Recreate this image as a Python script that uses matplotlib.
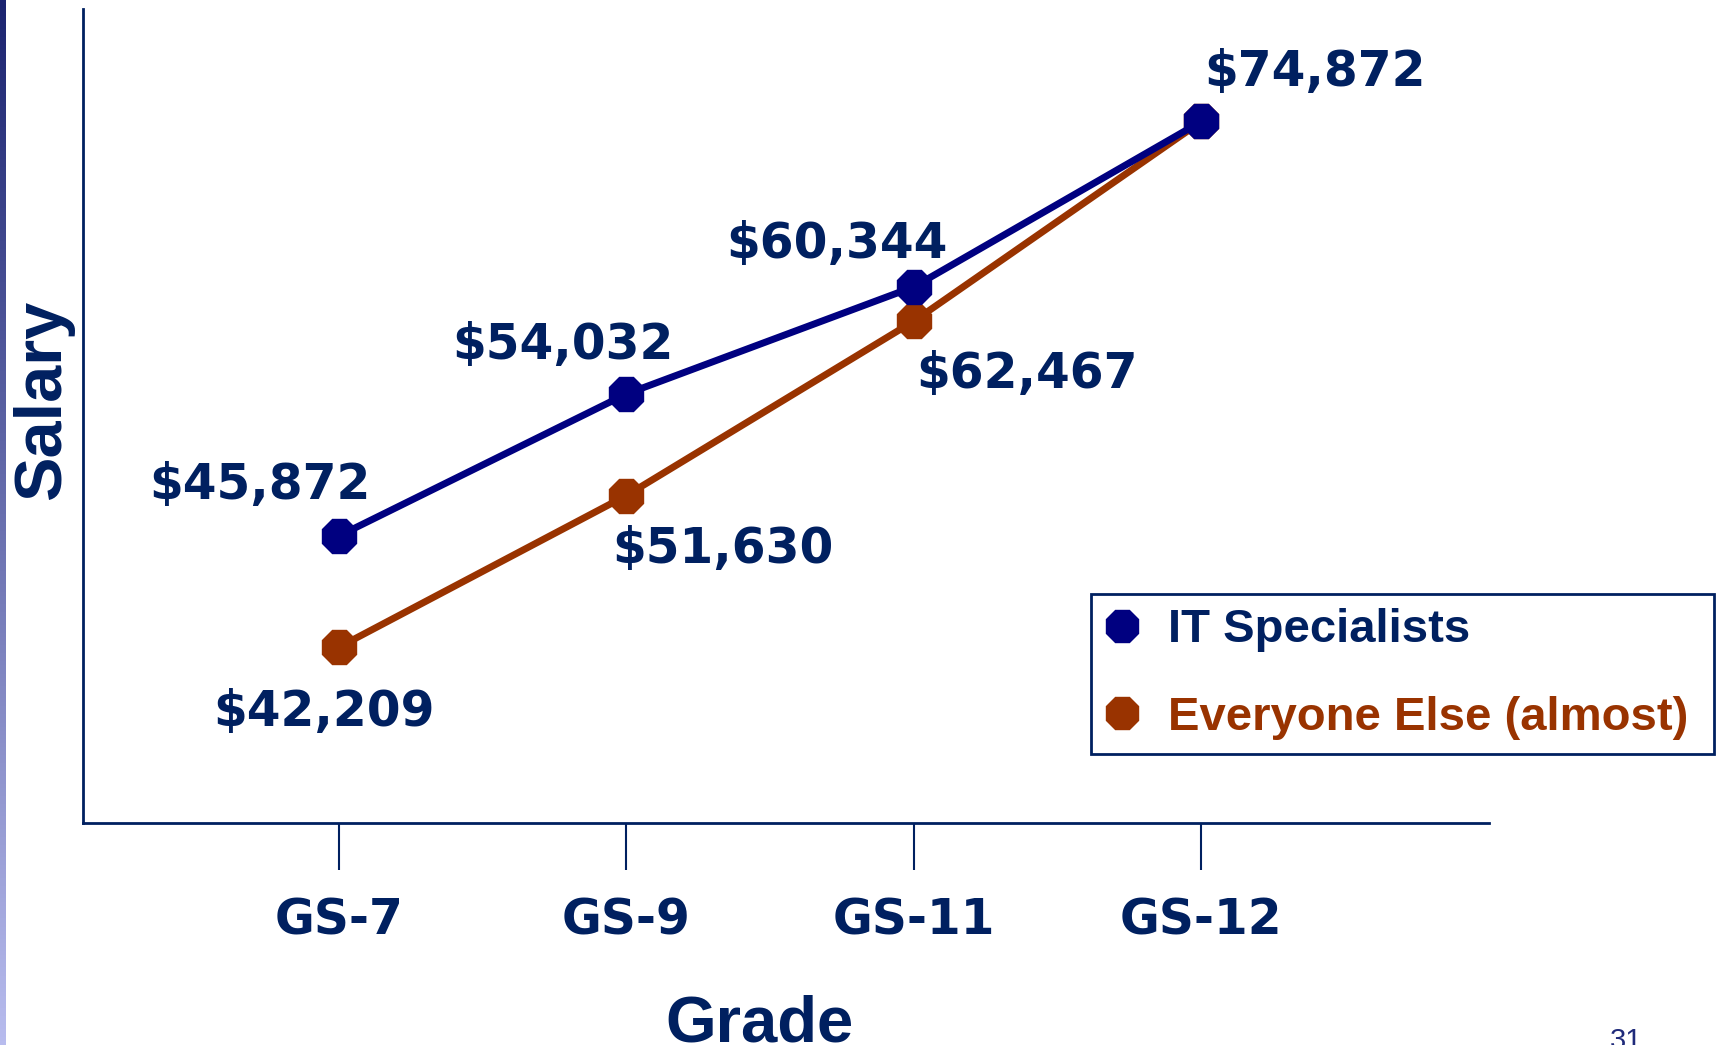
import matplotlib
matplotlib.use("Agg")
import matplotlib.pyplot as plt
from matplotlib.lines import Line2D
from matplotlib.colors import LinearSegmentedColormap
import numpy as np

# data
grades = ["GS-7", "GS-9", "GS-11", "GS-12"]
it_plotted = [49120, 57940, 64600, 74872]      # where the points sit in the picture
it_labels = ["$45,872", "$54,032", "$60,344", "$74,872"]
else_plotted = [42209, 51630, 62467, 74872]
else_labels = ["$42,209", "$51,630", "$62,467", ""]

navy_txt = "#002060"
it_col = "#000080"
else_col = "#993300"

W, H = 1726, 1045
fig = plt.figure(figsize=(W / 100, H / 100), dpi=100)

# thin gradient strip on the left edge
bar = fig.add_axes([0, 0, 5 / W, 1])
cmap = LinearSegmentedColormap.from_list("strip", ["#1B2470", "#B8BCEE"])
bar.imshow(np.linspace(0, 1, 256).reshape(-1, 1), aspect="auto", cmap=cmap)
bar.axis("off")

ax = fig.add_axes([82.6 / W, 222 / H, (1489 - 82.6) / W, (1036 - 222) / H])
x = np.arange(len(grades))

ax.plot(x, else_plotted, color=else_col, lw=5, marker="8", ms=27, zorder=2)
ax.plot(x, it_plotted, color=it_col, lw=5, marker="8", ms=27, zorder=3)

lab_font = dict(family="DejaVu Sans", weight="bold", size=35, color=navy_txt)
it_off = [(-79, 51), (-63, 49), (-77, 43), (114, 49)]
else_off = [(-15, -65), (97, -53), (113, -53), (0, 0)]
for i in range(len(grades)):
    ax.annotate(it_labels[i], (x[i], it_plotted[i]), xytext=it_off[i],
                textcoords="offset pixels", ha="center", va="center", **lab_font)
    if else_labels[i]:
        ax.annotate(else_labels[i], (x[i], else_plotted[i]), xytext=else_off[i],
                    textcoords="offset pixels", ha="center", va="center", **lab_font)

ax.set_xlim(-0.89, 4.0)
ax.set_ylim(31298, 81858)
ax.set_yticks([])
ax.set_xticks(x)
ax.set_xticklabels(grades, family="DejaVu Sans", weight="bold", size=35, color=navy_txt)
ax.tick_params(axis="x", direction="out", length=34, width=1.5, color=navy_txt, pad=19)
for s in ["top", "right"]:
    ax.spines[s].set_visible(False)
for s in ["left", "bottom"]:
    ax.spines[s].set_color(navy_txt)
    ax.spines[s].set_linewidth(2)

handles = [Line2D([], [], ls="none", marker="8", ms=25, color=it_col),
           Line2D([], [], ls="none", marker="8", ms=25, color=else_col)]
leg = fig.legend(handles, ["IT Specialists", "Everyone Else (almost)"],
                 loc="upper left", mode="expand",
                 bbox_to_anchor=(1091 / W, 1 - 594 / H, 623 / W, 0),
                 bbox_transform=fig.transFigure, borderaxespad=0,
                 fancybox=False, framealpha=1, edgecolor=navy_txt,
                 prop=dict(family="Liberation Sans", weight="bold", size=34),
                 labelcolor=[navy_txt, else_col],
                 handlelength=0.72, handletextpad=0.62, borderpad=0.3, labelspacing=0.92)
leg.get_frame().set_linewidth(2)

fig.text(43 / W, 1 - 400 / H, "Salary", rotation=90, ha="center", va="center",
         family="Liberation Sans", weight="bold", size=48, color=navy_txt)
fig.text(759 / W, 1 - 1042 / H, "Grade", ha="center", va="baseline",
         family="Liberation Sans", weight="bold", size=47, color=navy_txt)
fig.text(1626 / W, (H - 1049) / H, "31", ha="center", va="baseline",
         family="Liberation Sans", size=21, color="#1F2A7A")

fig.savefig("out.png", dpi=100)
